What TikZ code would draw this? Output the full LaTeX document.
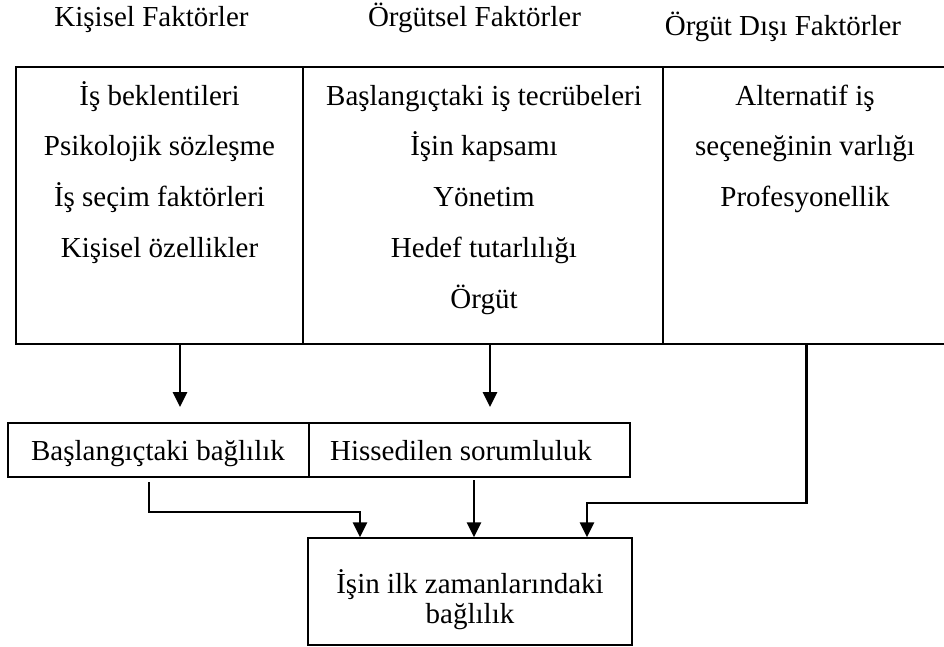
\documentclass[tikz,border=0pt]{standalone}
\usepackage{fontspec}
\setmainfont{Liberation Serif}
\usetikzlibrary{arrows.meta}
\begin{document}
\begin{tikzpicture}[x=1pt,y=-1pt,
  boxnode/.style={draw, line width=1.5pt, inner sep=0pt},
  txt/.style={anchor=base, inner sep=0pt, font=\fontsize{29}{30}\selectfont},
  arr/.style={line width=2.8pt, -{Triangle[width=14pt,length=15pt]}},
]
\useasboundingbox (0,0) rectangle (944,646);
% headers
\node[txt] (h1) at (151.5,26) {Kişisel Faktörler};
\node[txt] (h2) at (474.5,26) {Örgütsel Faktörler};
\node[txt] (h3) at (783,35) {Örgüt Dışı Faktörler};
% top boxes
\node[boxnode, minimum width=287pt, minimum height=277pt] (c1) at (159.5,205.5) {};
\node[boxnode, minimum width=360pt, minimum height=277pt] (c2) at (483,205.5) {};
\node[boxnode, minimum width=287pt, minimum height=277pt] (c3) at (806.5,205.5) {};
\foreach \t [count=\i] in {İş beklentileri, Psikolojik sözleşme, İş seçim faktörleri, Kişisel özellikler}
  \node[txt] (c1l\i) at (159.5,{105+50.75*(\i-1)}) {\t};
\foreach \t [count=\i] in {Başlangıçtaki iş tecrübeleri, İşin kapsamı, Yönetim, Hedef tutarlılığı, Örgüt}
  \node[txt] (c2l\i) at (484,{105+50.75*(\i-1)}) {\t};
\foreach \t [count=\i] in {Alternatif iş, seçeneğinin varlığı, Profesyonellik}
  \node[txt] (c3l\i) at (805,{105+50.75*(\i-1)}) {\t};
% middle boxes
\node[boxnode, minimum width=301pt, minimum height=54pt] (m1) at (158.5,450) {};
\node[boxnode, minimum width=321pt, minimum height=54pt] (m2) at (469.5,450) {};
\node[txt] (m1t) at (158,460) {Başlangıçtaki bağlılık};
\node[txt] (m2t) at (461,460) {Hissedilen sorumluluk};
% bottom box
\node[boxnode, minimum width=324pt, minimum height=107pt] (b) at (470,591.5) {};
\node[txt] (bt1) at (470,593) {İşin ilk zamanlarındaki};
\node[txt] (bt2) at (470,623) {bağlılık};
% arrows
\coordinate (t1) at (180,407);
\draw[arr] (c1.south -| t1) -- (t1);
\coordinate (t2) at (490,407);
\draw[arr] (c2.south -| t2) -- (t2);
\coordinate (k3) at (587,503);
\draw[arr] (c3.south) |- (k3) -- (b.north -| k3);
\coordinate (s4) at (149,482);
\coordinate (k4) at (360,512);
\draw[arr] (s4) |- (k4) -- (b.north -| k4);
\coordinate (s5) at (474,480);
\draw[arr] (s5) -- (b.north -| s5);
\end{tikzpicture}
\end{document}
